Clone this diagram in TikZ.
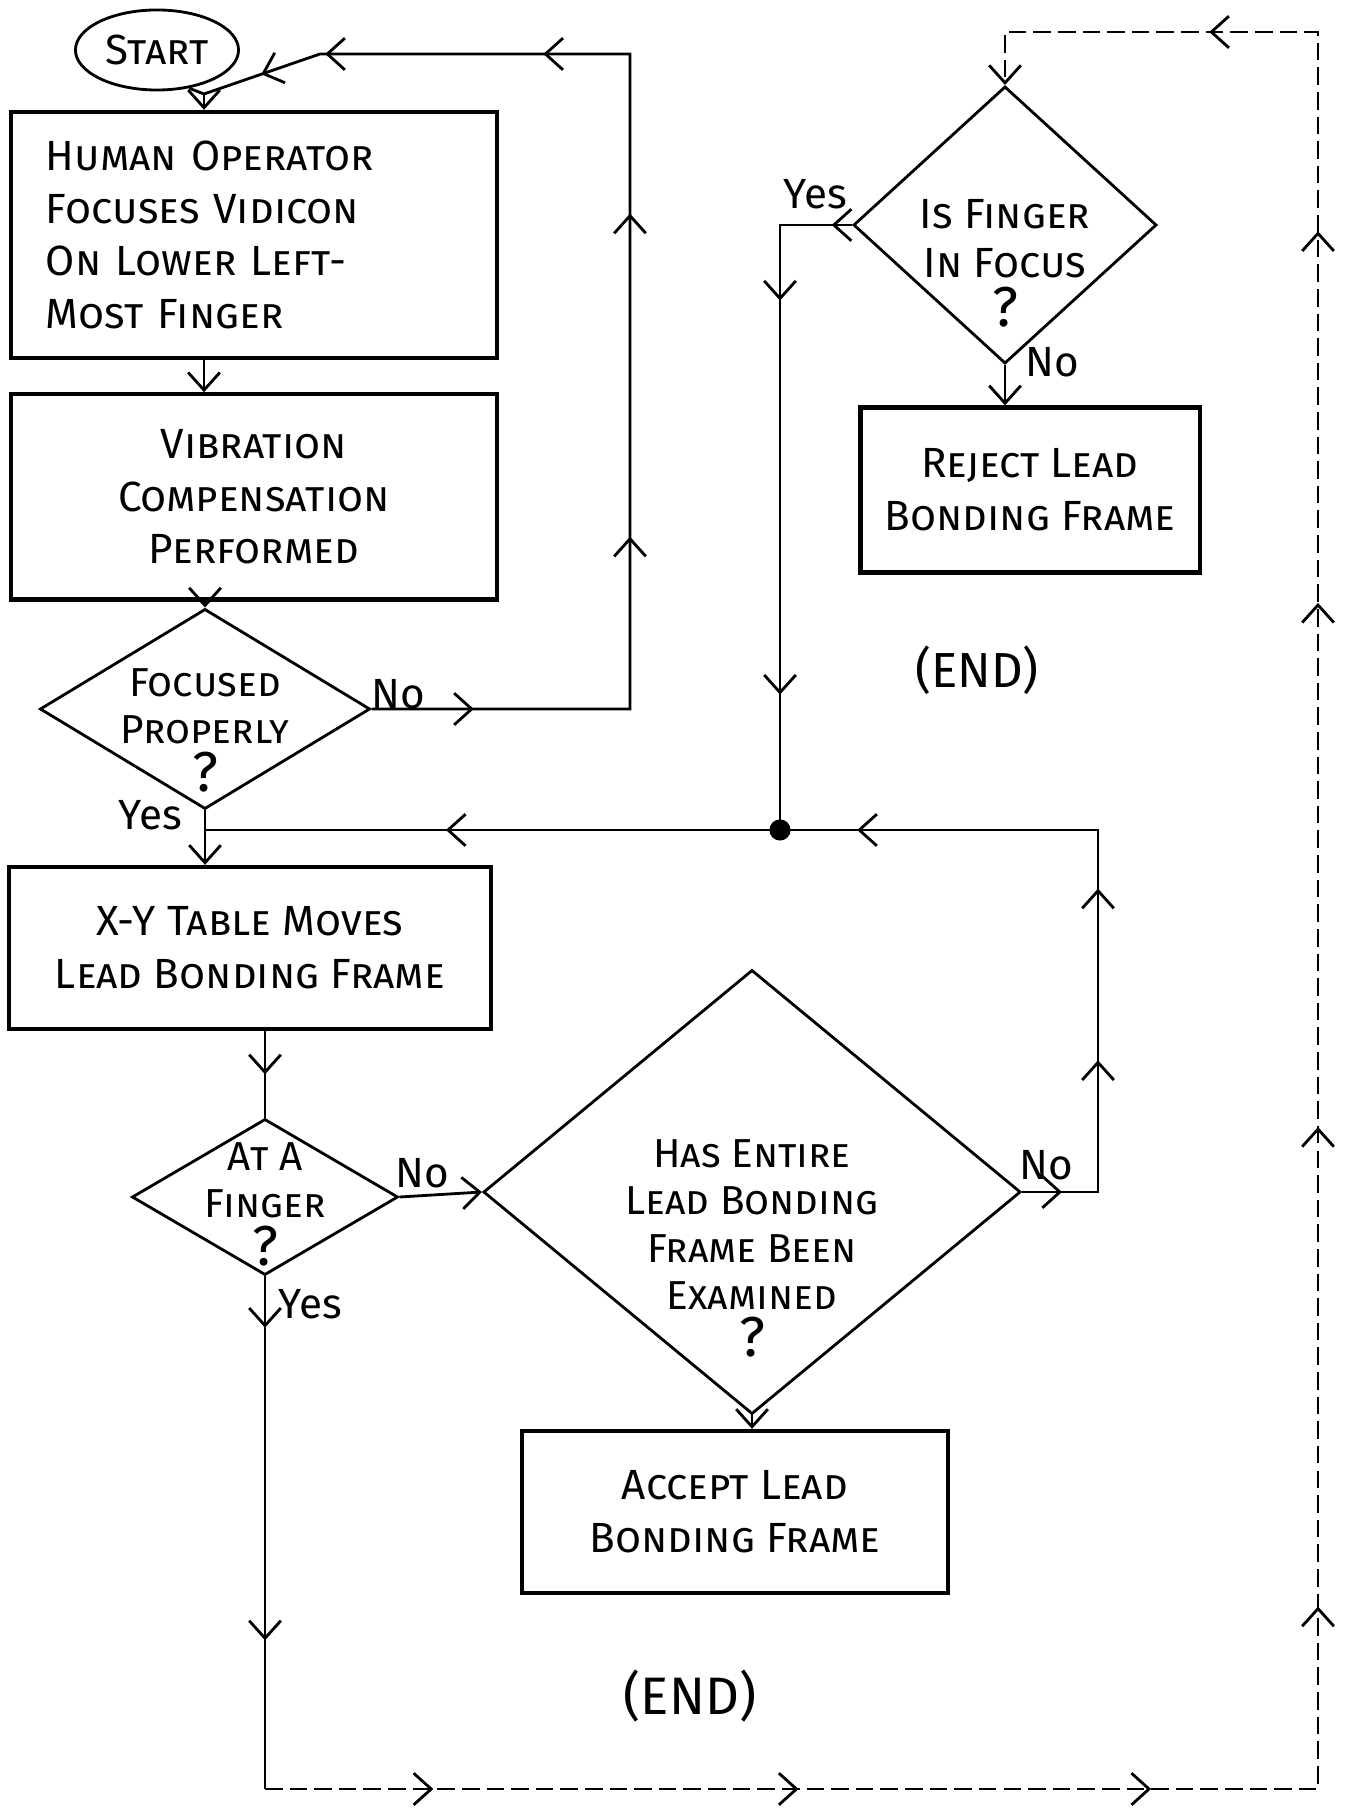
\documentclass[tikz,border=0pt]{standalone}
\usepackage{fontspec}
\setmainfont{Fira Sans}
\usepackage{tikz}
\usetikzlibrary{arrows.meta,positioning,shapes.geometric,decorations.markings}
\newcommand{\lowr}[1]{\rule{0pt}{#1}}
\newcommand{\qmark}{{\fontsize{16}{16}\selectfont ?}}

\begin{document}
\begin{tikzpicture}[x=0.01cm,y=-0.01cm,>={Straight Barb[length=5pt,width=9pt]},
font=\fontsize{12}{15}\selectfont\scshape,
box/.style={draw,very thick,align=center,inner sep=0pt},
dec/.style={draw,thick,diamond,align=center,inner sep=-10pt,font=\fontsize{11.5}{13.5}\selectfont\scshape},
lbl/.style={font=\fontsize{12}{14}\selectfont,inner sep=1pt},
stop/.style={font=\fontsize{14}{16}\selectfont},
flow/.style={->,thick},
line/.style={thick},
back/.style={thick,dash pattern=on 5pt off 2pt},
mid/.style={postaction={decorate,decoration={markings,mark=at position #1 with {\arrow{>}}}}}]
\useasboundingbox (0,0) rectangle (1350,1813);
% left column
\node[draw,thick,ellipse,inner sep=0pt,minimum width=1.63cm,minimum height=0.8cm] (start) at (157,50) {Start};
\node[box,minimum width=4.85cm,minimum height=2.46cm,text width=4.16cm,align=left] (op) at (254,235) {Human Operator\\Focuses Vidicon\\On Lower Left-\\Most Finger};
\node[box,minimum width=4.86cm,minimum height=2.05cm,below=0.32cm of op] (vib) {Vibration\\Compensation\\Performed};
\node[dec,minimum width=3.3cm,minimum height=2cm] (d1) at (205,709) {\lowr{20pt}Focused\\Properly\\\qmark};
\node[box,minimum width=4.81cm,minimum height=1.62cm] (xy) at (250,948) {X-Y Table Moves\\Lead Bonding Frame};
\node[dec,minimum width=2.66cm,minimum height=1.56cm] (d2) at (265,1197) {\lowr{12pt}At A\\Finger\\\qmark};
% middle
\node[dec,minimum width=5.37cm,minimum height=4.24cm] (d3) at (752,1192) {\lowr{40pt}Has Entire\\Lead Bonding\\Frame Been\\Examined\\\qmark};
\node[box,minimum width=4.26cm,minimum height=1.62cm] (acc) at (735,1512) {Accept Lead\\Bonding Frame};
\node[stop,font=\fontsize{15}{17}\selectfont] (end1) at (690,1696) {(END)};
% right column
\node[dec,minimum width=3.03cm,minimum height=2.77cm,font=\fontsize{12}{14}\selectfont\scshape] (d4) at (1005,225) {\lowr{30pt}Is Finger\\In Focus\\\qmark};
\node[box,minimum width=3.39cm,minimum height=1.65cm] (rej) at (1030,490) {Reject Lead\\Bonding Frame};
\node[stop] (end2) at (977,670) {(END)};
% labels
\node[lbl] (d1no) at (398,694) {No};
\node[lbl] (d1yes) at (150,815) {Yes};
\node[lbl] (d2no) at (422,1173) {No};
\node[lbl] (d2yes) at (310,1304) {Yes};
\node[lbl] (d3no) at (1046,1165) {No};
\node[lbl] (d4yes) at (815,194) {Yes};
\node[lbl] (d4no) at (1052,362) {No};
% corners
\coordinate (j1) at (204,94);
\coordinate (c1) at (630,54);
\coordinate (c2) at (320,54);
\coordinate (m1) at (780,830);
\coordinate (c5) at (1098,830);
\coordinate (c3) at (265,1789);
\coordinate (c4) at (1318,32);
% main flow
\draw[line] (start.-50)--(j1);
\draw[flow] (j1)--(j1 |- op.north);
\draw[flow] (op.south -| j1)--(j1 |- vib.north);
\draw[flow] (vib.south -| d1.north)--(d1.north);
\draw[flow] (d1.south)--(d1.south |- xy.north);
\draw[line,mid=.5] (xy.south -| d2.north)--(d2.north);
\draw[flow] (d2.east)--(d3.west);
\draw[flow] (d3.south)--(d3.south |- acc.north);
\draw[flow] (d4.south)--(d4.south |- rej.north);
% loops back
\draw[line,mid=.076,mid=.32,mid=.56,mid=.743,mid=.905,mid=.955] (d1.east) -| (c1)--(c2)--(j1);
\draw[line,mid=.03,mid=.156,mid=.285,mid=.51,mid=.819] (d3.east) -| (c5)--(m1)--(d1.south |- m1);
\draw[line,mid=.03,mid=.218,mid=.8] (d4.west) -| (m1);
\fill (m1) circle (3pt);
\draw[line,mid=.1,mid=.71] (d2.south)--(c3);
\draw[back,->,mid=.053,mid=.168,mid=.279,mid=.389,mid=.54,mid=.705,mid=.822,mid=.919] (c3) -| (c4) -| (d4.north);
\end{tikzpicture}
\end{document}
